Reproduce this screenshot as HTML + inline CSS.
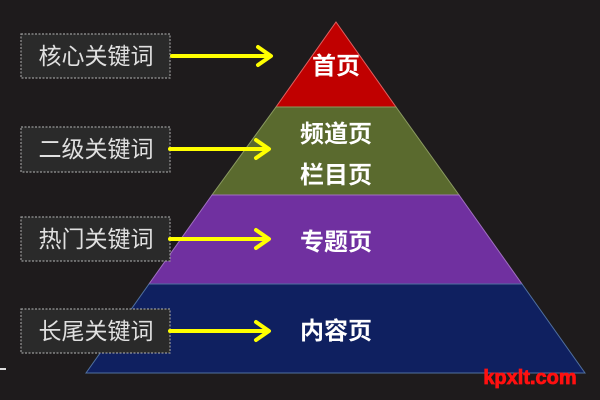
<!DOCTYPE html>
<html><head><meta charset="utf-8"><style>
html,body{margin:0;padding:0;background:#1e1b1c;}
svg{display:block}
</style></head><body>
<svg width="600" height="400" viewBox="0 0 600 400" xmlns="http://www.w3.org/2000/svg" font-family="'Liberation Sans','Noto Sans CJK SC',sans-serif">
<rect width="600" height="400" fill="#1e1b1c"/>
<polygon points="336,22 396,107 276,107" fill="#c00000" stroke="#e06060" stroke-width="1"/>
<polygon points="276,107 396,107 459,195 212,195" fill="#5a6a2e" stroke="#8a9a60" stroke-width="1"/>
<polygon points="212,195 459,195 522,284 149,284" fill="#7030a0" stroke="#a070c0" stroke-width="1"/>
<polygon points="149,284 522,284 585,373 86,373" fill="#0f2060" stroke="#5070a0" stroke-width="1"/>
<g fill="#fff" font-weight="bold" font-size="24" text-anchor="middle">
<text x="336" y="74">首页</text>
<text x="336" y="142">频道页</text>
<text x="336" y="183">栏目页</text>
<text x="336" y="250">专题页</text>
<text x="336" y="339">内容页</text>
</g>
<g fill="#2a2a2a" stroke="#999" stroke-width="1.2" stroke-dasharray="2,1.5">
<rect x="21" y="34" width="149" height="44"/>
<rect x="21" y="127" width="149" height="45"/>
<rect x="21" y="217" width="149" height="44"/>
<rect x="21" y="309" width="149" height="44"/>
</g>
<g fill="#e0e0e0" font-size="23" text-anchor="middle">
<text x="96" y="64">核心关键词</text>
<text x="96" y="157">二级关键词</text>
<text x="96" y="247">热门关键词</text>
<text x="96" y="339">长尾关键词</text>
</g>
<g stroke="#ffff00" stroke-width="4" fill="none" stroke-linecap="round" stroke-linejoin="round">
<path d="M172 56H270M258 47L271 56L258 65"/>
<path d="M170 149H268M256 140L269 149L256 158"/>
<path d="M170 239H268M256 230L269 239L256 248"/>
<path d="M170 331H268M256 322L269 331L256 340"/>
</g>
<rect x="0" y="368" width="6" height="2" fill="#ddd"/>
<text x="530" y="384" fill="#ff1010" font-size="20" font-weight="bold" text-anchor="middle" stroke="#ff1010" stroke-width="0.8">kpxlt.com</text>
</svg>
</body></html>
